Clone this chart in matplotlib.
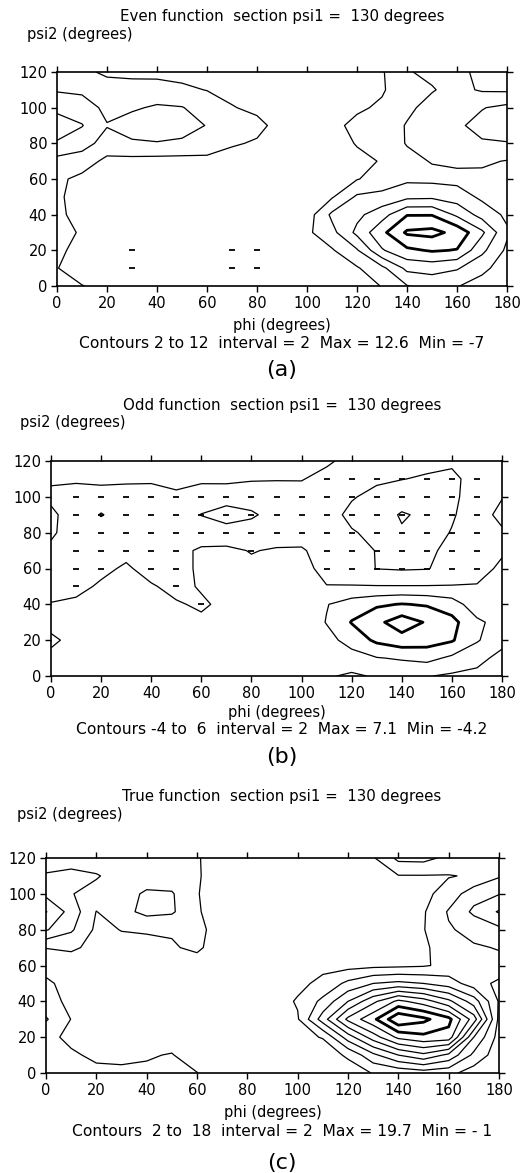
import numpy as np
import matplotlib
matplotlib.use("Agg")
import matplotlib.pyplot as plt

# grid axes (degrees)
phi = list(range(0, 181, 10))
psi2 = list(range(0, 121, 10))
x_ticks = list(range(0, 181, 20))
y_ticks = list(range(0, 121, 20))

# rows: psi2 = 0, 10, ..., 120 ; columns: phi = 0, 10, ..., 180
even_rows = [
    [3.0, 2.1, 1.2, 0.8, 0.8, 0.8, 0.7, 0.5, 0.5, 0.7, 0.8, 1.0, 1.4, 2.05, 3.9, 4.6, 4.1, 3.2, 2.6],
    [2.1, 0.5, 0.3, -1.5, 0.2, 0.3, 0.2, -2.0, -7.0, 0.4, 1.0, 1.4, 1.8, 3.5, 6.5, 6.8, 6.2, 4.5, 3.0],
    [2.5, 1.2, 0.5, -1.0, 0.3, 0.4, 0.3, -1.5, -3.0, 0.5, 1.2, 1.8, 3.8, 7.8, 9.6, 10.2, 9.9, 6.5, 3.6],
    [3.0, 1.7, 0.8, 0.5, 0.5, 0.5, 0.5, 0.5, 0.5, 0.8, 1.6, 3.4, 6.5, 9.5, 12.3, 12.6, 11.4, 8.4, 4.3],
    [2.6, 1.0, 0.7, 0.6, 0.6, 0.6, 0.6, 0.6, 0.6, 0.8, 1.0, 4.4, 5.5, 7.2, 9.9, 9.9, 7.6, 5.2, 3.6],
    [2.4, 1.0, 0.7, 0.6, 0.6, 0.6, 0.6, 0.6, 0.6, 0.8, 1.0, 1.8, 4.3, 4.6, 5.5, 5.6, 5.0, 3.6, 2.8],
    [2.4, 1.5, 1.0, 0.9, 0.9, 0.9, 0.9, 0.9, 0.9, 0.9, 1.0, 1.3, 1.9, 2.8, 3.6, 3.5, 3.4, 3.5, 3.2],
    [3.3, 3.0, 1.5, 1.4, 1.3, 1.3, 1.5, 1.2, 1.0, 1.0, 1.0, 1.1, 1.6, 2.1, 3.5, 4.1, 4.4, 4.3, 3.9],
    [5.8, 4.8, 3.2, 3.7, 3.85, 3.6, 3.0, 2.2, 1.8, 1.2, 1.0, 1.3, 2.1, 3.0, 4.1, 4.8, 5.3, 5.8, 5.9],
    [7.0, 6.1, 4.1, 5.0, 5.5, 5.0, 3.9, 3.0, 2.5, 1.3, 1.1, 1.5, 2.5, 3.2, 4.1, 5.0, 5.7, 6.6, 7.0],
    [5.5, 5.0, 3.5, 3.7, 4.3, 4.1, 3.0, 2.1, 1.6, 1.2, 1.1, 1.3, 1.7, 2.3, 3.7, 4.5, 5.3, 5.9, 6.5],
    [3.8, 3.6, 3.0, 2.8, 2.6, 2.3, 1.95, 1.5, 1.3, 1.1, 1.0, 1.2, 1.5, 1.8, 3.2, 3.9, 4.5, 3.8, 3.7],
    [3.0, 2.5, 1.6, 1.5, 1.6, 1.5, 1.3, 1.2, 1.1, 1.0, 1.0, 1.1, 1.3, 1.8, 3.9, 4.3, 4.5, 3.5, 3.0],
]

odd_rows = [
    [0.5, 0.5, 0.6, 0.6, 0.6, 0.6, 0.5, 0.5, 0.4, 0.4, 0.3, 0.2, -0.3, 0.2, 0.5, 0.1, -0.3, -0.5, -0.9],
    [0.4, 0.6, 0.8, 0.9, 0.9, 0.8, 0.7, 0.7, 0.6, 0.5, 0.3, 0.6, 1.2, 1.9, 2.2, 2.6, 1.6, 0.6, -0.6],
    [-0.3, 0.5, 0.9, 1.0, 1.0, 0.9, 0.7, 0.8, 0.8, 0.6, 0.4, 1.3, 2.8, 4.4, 5.2, 4.9, 4.2, 2.2, 0.6],
    [0.5, 0.8, 1.0, 1.2, 1.1, 0.8, 0.4, 0.8, 0.8, 0.7, 0.5, 2.1, 4.1, 5.5, 7.1, 5.8, 4.6, 2.4, 1.2],
    [0.05, 0.4, 0.8, 1.0, 0.8, 0.2, -0.3, 0.5, 0.7, 0.6, 0.5, 1.9, 3.0, 3.7, 4.1, 3.8, 3.0, 0.8, 1.2],
    [-0.4, -0.6, 0.3, 0.5, 0.2, -0.6, 0.2, 0.5, 0.6, 0.6, 0.5, 0.05, 0.1, 0.1, 0.1, 0.1, 0.1, 0.1, 0.5],
    [-0.4, -0.6, -0.5, 0.3, -0.8, -0.6, 0.3, 0.5, 0.4, 0.5, 0.5, -0.5, -1.2, -2.05, -2.2, -2.1, -1.3, -0.6, 0.3],
    [-0.4, -0.8, -0.9, -0.6, -0.8, -0.6, 0.3, 0.4, -0.1, 0.2, 0.2, -0.8, -1.5, -2.05, -2.4, -2.3, -1.6, -0.9, -0.2],
    [0.3, -1.0, -1.2, -1.1, -1.1, -1.0, -1.1, -1.2, -1.0, -1.0, -0.8, -1.1, -1.8, -2.6, -3.8, -2.8, -1.9, -1.0, -0.3],
    [0.4, -1.0, -2.1, -1.2, -1.2, -1.3, -2.05, -2.8, -2.3, -1.2, -1.0, -1.0, -2.6, -3.0, -4.2, -3.6, -2.2, -1.0, 0.6],
    [-0.4, -0.9, -1.1, -1.0, -1.0, -0.5, -1.1, -1.2, -1.0, -0.9, -0.8, -1.2, -1.8, -2.7, -3.0, -2.6, -2.4, -1.1, -0.1],
    [0.25, 0.3, 0.6, 0.4, 0.35, 0.8, 0.4, 0.45, 0.15, 0.1, 0.1, -0.6, -1.2, -1.6, -1.95, -2.2, -2.4, -1.3, -0.8],
    [0.6, 0.7, 0.8, 0.8, 0.8, 0.8, 0.8, 0.7, 0.6, 0.6, 0.5, 0.3, -0.6, -1.0, -1.2, -1.5, -1.7, -1.3, -1.0],
]

true_rows = [
    [3.5, 3.0, 2.5, 2.6, 2.3, 2.1, 2.05, 1.0, 0.8, 0.6, 0.5, 0.7, 1.0, 2.1, 2.5, 3.0, 2.6, 1.0, 0.5],
    [3.5, 2.3, 1.6, 1.3, 1.85, 2.1, 1.0, 0.9, 0.8, 0.8, 1.0, 1.0, 2.3, 5.5, 8.0, 9.5, 7.5, 3.5, 0.8],
    [2.6, 1.5, 1.2, 1.0, 1.1, 1.2, 1.0, 0.9, 0.8, 0.9, 1.5, 2.1, 7.0, 11.0, 14.5, 15.5, 15.2, 6.0, 1.2],
    [4.2, 1.95, 1.0, 0.8, 0.8, 0.8, 0.8, 0.8, 0.8, 1.0, 1.8, 7.0, 12.5, 15.5, 19.7, 18.5, 16.6, 11.0, 1.5],
    [2.8, 1.5, 0.9, 0.8, 0.7, 0.7, 0.7, 0.7, 0.8, 1.0, 2.2, 4.5, 8.0, 11.5, 14.5, 13.0, 10.5, 7.0, 1.8],
    [2.5, 1.0, 0.9, 0.8, 0.7, 0.7, 0.7, 0.7, 0.8, 1.0, 1.5, 2.5, 4.5, 6.0, 6.5, 6.0, 5.0, 3.0, 1.5],
    [1.0, 1.0, 1.0, 0.9, 1.0, 1.0, 1.5, 1.3, 1.1, 1.0, 1.2, 1.5, 1.3, 1.5, 1.6, 1.8, 2.5, 3.0, 3.5],
    [2.05, 2.3, 1.5, 1.5, 1.7, 1.9, 2.2, 1.4, 1.1, 1.0, 1.0, 1.0, 1.0, 1.0, 1.2, 1.8, 2.6, 3.8, 4.1],
    [6.2, 4.3, 1.6, 2.05, 2.1, 2.1, 2.3, 1.5, 1.1, 1.0, 1.0, 1.0, 1.0, 1.1, 1.3, 1.9, 3.8, 4.6, 5.5],
    [8.1, 5.2, 1.95, 3.3, 4.6, 4.3, 2.1, 1.5, 1.1, 1.0, 1.0, 1.0, 1.0, 1.1, 1.3, 1.8, 4.2, 6.4, 8.2],
    [5.5, 4.1, 3.2, 3.2, 4.3, 4.2, 2.05, 1.5, 1.1, 1.0, 1.0, 1.0, 1.0, 1.2, 1.5, 1.5, 2.8, 5.2, 5.9],
    [4.2, 4.5, 4.2, 3.0, 3.0, 2.8, 2.1, 1.5, 1.1, 1.0, 1.0, 1.0, 1.2, 1.5, 1.9, 1.9, 1.9, 2.2, 3.8],
    [3.0, 3.2, 2.6, 2.4, 2.4, 2.3, 2.1, 1.4, 1.1, 1.0, 1.0, 1.0, 1.2, 1.8, 4.5, 4.6, 3.5, 3.0, 3.2],
]

even_levels = [2, 4, 6, 8, 10, 12]
odd_levels = [-4, -2, 0, 2, 4, 6]
true_levels = [2, 4, 6, 8, 10, 12, 14, 16, 18]

W, H = 525, 1173
fig = plt.figure(figsize=(W / 100, H / 100), dpi=100)
plt.rcParams['font.family'] = ['DejaVu Sans']


def fx(x):
    return x / W


def fy(y):
    return 1 - y / H


panels = [
    dict(rows=even_rows, levels=even_levels, thick=[10, 12], dashes=True,
         box=(57, 72, 507, 286),
         title="Even function  section psi1 =  130 degrees", title_y=17,
         ylab=(27, 35), xlab_y=325, info_y=344, tag_y=370,
         info="Contours 2 to 12  interval = 2  Max = 12.6  Min = -7", tag="(a)"),
    dict(rows=odd_rows, levels=odd_levels, thick=[4, 6], dashes=True,
         box=(51, 461, 502, 676),
         title="Odd function  section psi1 =  130 degrees", title_y=405,
         ylab=(20, 422), xlab_y=712, info_y=730, tag_y=757,
         info="Contours -4 to  6  interval = 2  Max = 7.1  Min = -4.2", tag="(b)"),
    dict(rows=true_rows, levels=true_levels, thick=[16, 18], dashes=False,
         box=(46, 858, 499, 1073),
         title="True function  section psi1 =  130 degrees", title_y=797,
         ylab=(17, 815), xlab_y=1112, info_y=1131, tag_y=1163,
         info="Contours  2 to  18  interval = 2  Max = 19.7  Min = - 1", tag="(c)"),
]

for p in panels:
    x0, y0, x1, y1 = p["box"]
    ax = fig.add_axes([fx(x0), fy(y1), (x1 - x0) / W, (y1 - y0) / H])
    Z = np.array(p["rows"], dtype=float)
    lws = [2.0 if lv in p["thick"] else 0.9 for lv in p["levels"]]
    ax.contour(phi, psi2, Z, levels=p["levels"], colors="black",
               linewidths=lws, linestyles="solid")
    if p["dashes"]:
        PX, PY = np.meshgrid(phi, psi2)
        mask = Z < 0
        mask[0, :] = False
        mask[-1, :] = False
        mask[:, 0] = False
        mask[:, -1] = False
        ax.plot(PX[mask], PY[mask], linestyle="none", marker="_",
                markersize=5, mew=1.3, color="black")
    ax.set_xlim(0, 180)
    ax.set_ylim(0, 120)
    ax.set_xticks(x_ticks)
    ax.set_yticks(y_ticks)
    ax.tick_params(direction="out", length=4, width=1, top=True, right=True,
                   labeltop=False, labelright=False, labelsize=10.5, pad=3)
    for s in ax.spines.values():
        s.set_linewidth(1.2)
    cx = (x0 + x1) / 2
    fig.text(fx(282), fy(p["title_y"]), p["title"], ha="center", va="center", fontsize=10.8)
    fig.text(fx(p["ylab"][0]), fy(p["ylab"][1]), "psi2 (degrees)", ha="left", va="center", fontsize=10.5)
    fig.text(fx(cx), fy(p["xlab_y"]), "phi (degrees)", ha="center", va="center", fontsize=10.5)
    fig.text(fx(282), fy(p["info_y"]), p["info"], ha="center", va="center", fontsize=11.2)
    fig.text(fx(282), fy(p["tag_y"]), p["tag"], ha="center", va="center", fontsize=16)

fig.savefig("out.png", dpi=100)
